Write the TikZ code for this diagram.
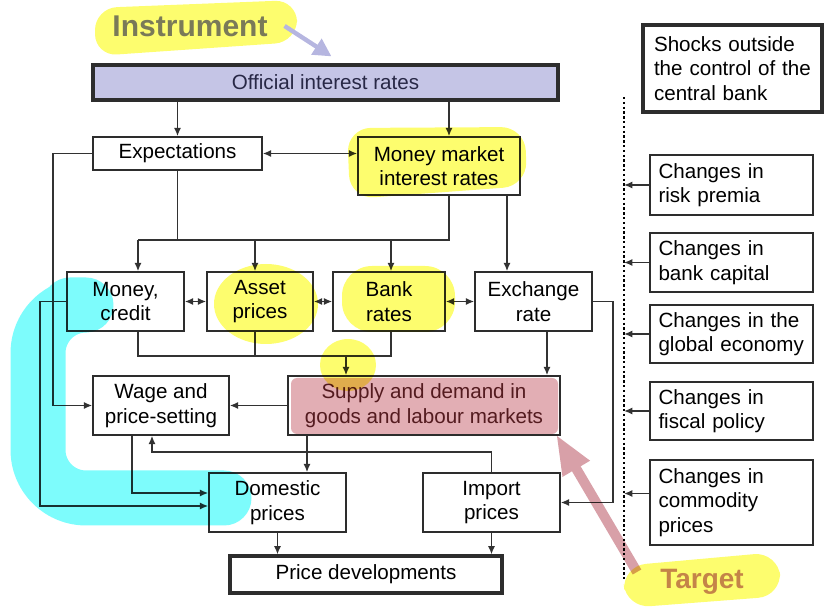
\documentclass[tikz,border=0pt]{standalone}
\usepackage{fontspec}
\setmainfont{Liberation Sans}
\usepackage{tikz}
\usetikzlibrary{shapes,arrows,arrows.meta,positioning,calc,backgrounds}
\definecolor{boxline}{RGB}{45,45,45}
\definecolor{linkcol}{RGB}{50,50,50}
\definecolor{officialfill}{RGB}{197,197,230}
\definecolor{officialtext}{RGB}{40,40,70}
\definecolor{supplytext}{RGB}{95,40,45}
\definecolor{hlyellow}{RGB}{253,253,110}
\definecolor{hlcyan}{RGB}{125,252,252}
\definecolor{hlpink}{RGB}{226,174,180}
\definecolor{arrowpink}{RGB}{216,160,168}
\definecolor{arrowlav}{RGB}{182,182,224}
\definecolor{instrtext}{RGB}{122,122,88}
\definecolor{targettext}{RGB}{196,132,72}
\newcommand\diagfont{\fontsize{10.3}{12.3}\selectfont}
\tikzset{
box/.style = {draw=boxline, line width=0.8pt, fill=white, rectangle, align=center, inner sep=0pt, font=\diagfont},
thickbox/.style = {box, line width=1.6pt},
change/.style = {box, align=left, text width=73pt, inner xsep=4.25pt},
link/.style = {draw=linkcol, line width=0.75pt},
label/.style = {font=\bfseries\fontsize{15}{18}\selectfont},
}

\begin{document}
\begin{tikzpicture}[x=0.5pt, y=-0.5pt, >={Latex[length=4.2pt,width=3.6pt]}]
\useasboundingbox (0,0) rectangle (824,608);

% central bank side
\node [thickbox, fill=officialfill, text=officialtext, minimum width=232.5pt, minimum height=17.5pt] (official) at (325.5,82.5) {Official interest rates};
\node [box, minimum width=84.5pt, minimum height=16.5pt] (expect) at (177.5,153.5) {Expectations};
\node [box, minimum width=81pt, minimum height=29pt] (mm) at (439,166) {Money market\\interest rates};

\node [box, minimum width=58.5pt, minimum height=29.5pt] (money) at (125.5,301.5) {Money,\\credit};
\node [box, minimum width=53pt, minimum height=29.5pt] (asset) at (260,301.5) {Asset\\prices};
\node [box, minimum width=56pt, minimum height=29.5pt] (bank) at (389,301.5) {Bank\\rates};
\node [box, minimum width=58.5pt, minimum height=29.5pt] (exch) at (533.5,301.5) {Exchange\\rate};

\node [box, minimum width=68pt, minimum height=29.5pt] (wage) at (161,405.5) {Wage and\\price-setting};
\node [box, text=supplytext, minimum width=136pt, minimum height=29.5pt] (supply) at (424,405.5) {Supply and demand in\\goods and labour markets};
\node [box, minimum width=68.5pt, minimum height=29.5pt] (domestic) at (277.5,502.5) {Domestic\\prices};
\node [box, minimum width=68.5pt, minimum height=29.5pt] (import) at (491.5,502.5) {Import\\prices};
\node [thickbox, minimum width=136pt, minimum height=18.5pt] (pricedev) at (366,574.5) {Price developments};

% shocks
\node [thickbox, align=left, text width=78.5pt, inner xsep=5.5pt, minimum height=43.5pt] (shocks) at (732.5,68.5) {Shocks outside\\the control of the\\central bank};
\node [change, minimum height=30pt] (risk) at (731.5,185) {Changes in\\risk premia};
\node [change, minimum height=29.5pt] (capital) at (731.5,262.5) {Changes in\\bank capital};
\node [change, minimum height=29pt] (global) at (731.5,334) {Changes in the\\global economy};
\node [change, minimum height=29pt] (fiscal) at (731.5,411) {Changes in\\fiscal policy};
\node [change, minimum height=42.5pt] (commodity) at (731.5,502.5) {Changes in\\commodity\\prices};

\coordinate (dist) at (0,240);
\coordinate (coll) at (0,356);
\coordinate (dash) at (624,0);
\coordinate (dashtop) at (624,97);
\coordinate (dashbot) at (624,580);

\draw [link,->] (official.south -| expect.north) -- (expect.north);
\draw [link,->] ([xshift=5pt]mm.north |- official.south) -- ([xshift=5pt]mm.north);
\draw [link,<->] (expect.east) -- (expect.east -| mm.west);
\draw [link] (expect.south) -- (expect.south |- dist);
\draw [link] ([xshift=5pt]mm.south) -- ([xshift=5pt]mm.south |- dist) -- ([xshift=6.25pt]money.north |- dist);
\draw [link,->] ([xshift=6.25pt]money.north |- dist) -- ([xshift=6.25pt]money.north);
\draw [link,->] ([xshift=-2.5pt]asset.north |- dist) -- ([xshift=-2.5pt]asset.north);
\draw [link,->] ([xshift=1pt]bank.north |- dist) -- ([xshift=1pt]bank.north);
\draw [link,->] ([xshift=34pt]mm.south) -- ([xshift=34pt]mm.south |- exch.north);
\draw [link,<->] (money.east) -- (asset.west);
\draw [link,<->] (asset.east) -- (bank.west);
\draw [link,<->] (bank.east) -- (exch.west);
\draw [link] ([xshift=6.25pt]money.south) -- ([xshift=6.25pt]money.south |- coll) -- ([xshift=1pt]bank.south |- coll) -- ([xshift=1pt]bank.south);
\draw [link] ([xshift=-2.5pt]asset.south) -- ([xshift=-2.5pt]asset.south |- coll);
\draw [link,->] ([xshift=-39pt]supply.north |- coll) -- ([xshift=-39pt]supply.north);
\draw [link,->] ([xshift=6.75pt]exch.south) -- ([xshift=6.75pt]exch.south |- supply.north);
\draw [link,->] (exch.east) -- ++(20,0) |- (import.east);
\draw [link,->] (supply.west) -- (wage.east);
\draw [link,->] (expect.west) -- ++(-39,0) |- (wage.west);
\draw [link,->] (money.west) -- ++(-26,0) |- ([yshift=-1.75pt]domestic.west);
\draw [link,->] ([xshift=-14.5pt]wage.south) |- ([yshift=4.75pt]domestic.west);
\draw [link,->] (import.north) -- ++(0,-20) -| ([xshift=-4.5pt]wage.south);
\draw [link,->] ([xshift=-58.5pt]supply.south) -- ([xshift=-58.5pt]supply.south |- domestic.north);
\draw [link,->] (domestic.south) -- (domestic.south |- pricedev.north);
\draw [link,->] (import.south) -- (import.south |- pricedev.north);

\draw [draw=black, line width=0.6pt, dash pattern=on 1.2pt off 1.2pt] (dashtop) -- (dashbot);
\foreach \n in {risk,capital,global,fiscal}
    \draw [link,->] (\n.west) -- (\n.west -| dash);
\draw [link,->] ([yshift=4.5pt]commodity.west) -- ([yshift=4.5pt]commodity.west -| dash);

% annotations
\node [label, text=instrtext] (instrument) at (190,26) {Instrument};
\node [label, font=\bfseries\fontsize{14}{17}\selectfont, text=targettext] (target) at (702,582) {Target};
\begin{scope}[on background layer]
\fill [hlyellow, rounded corners=11pt] (95,8) -- (297,0) -- (297,42) -- (95,56) -- cycle;
\fill [hlyellow, rounded corners=12pt] (622,566) -- (778,552) -- (782,596) -- (626,608) -- cycle;
\end{scope}
\draw [arrowlav, line width=2.2pt, -{Triangle[length=9pt,width=9pt]}] ([xshift=5pt]instrument.east) -- ([xshift=3pt,yshift=3.5pt]official.north);

\begin{scope}[blend mode=multiply]
\fill [hlyellow, rounded corners=12pt] (347,128) -- (525,127) -- (527,186) -- (350,199) -- cycle;
\fill [hlyellow] (266,304) ellipse [x radius=52, y radius=40];
\fill [hlyellow, rounded corners=15pt] (342,266) rectangle (455,332);
\fill [hlyellow] (348,365) ellipse [x radius=28, y radius=26];
\fill [hlpink, rounded corners=3pt] (291,378) rectangle (558,434);
\draw [hlcyan, line width=27.5pt, line cap=round, line join=round, rounded corners=24pt] (70,305) -- (38,305) -- (38,498) -- (224,498);
% big arrow towards the target
\fill [arrowpink] (632.7,574.5) -- (572.0,471.3) -- (562.5,476.9) -- (557,436) -- (590.1,460.7) -- (580.6,466.3) -- (641.3,569.5) -- cycle;
\end{scope}
\end{tikzpicture}
\end{document}
